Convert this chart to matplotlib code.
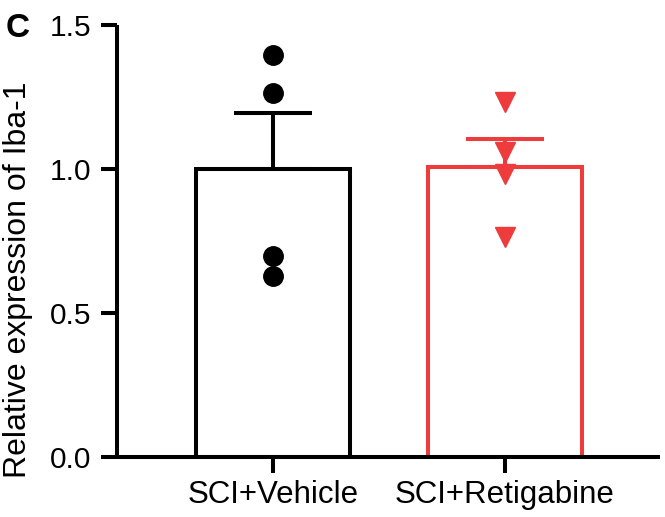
import matplotlib
matplotlib.use("Agg")
import matplotlib.pyplot as plt
import numpy as np

plt.rcParams['font.family'] = ['Liberation Sans', 'DejaVu Sans']

categories = ["SCI+Vehicle", "SCI+Retigabine"]
means = [1.00, 1.005]
sems = [0.193, 0.098]
vehicle_points = [1.396, 1.263, 0.698, 0.628]
retigabine_points = [1.231, 1.060, 0.983, 0.764]
colors = ["#000000", "#EE3B3B"]
yticks = [0.0, 0.5, 1.0, 1.5]

fig = plt.figure(figsize=(6.65, 5.17), dpi=100)
ax = fig.add_axes([0.176, 0.116, 0.9925 - 0.176, 0.952 - 0.116])

x = np.arange(len(categories))
lw = 2.9
for i in range(len(categories)):
    ax.bar(x[i], means[i], width=0.66, facecolor='white', edgecolor=colors[i],
           linewidth=lw, zorder=2)
    ax.errorbar(x[i], means[i], yerr=[[0], [sems[i]]], fmt='none', ecolor=colors[i],
                elinewidth=lw, capsize=28, capthick=lw, zorder=3)

ax.plot([x[0]] * len(vehicle_points), vehicle_points, 'o', color=colors[0],
        markersize=14, zorder=4, linestyle='none')
ax.plot([x[1]] * len(retigabine_points), retigabine_points, 'v', color=colors[1],
        markersize=14, zorder=4, linestyle='none')

ax.set_xlim(-0.672, 1.668)
ax.set_ylim(0, 1.5)
ax.set_yticks(yticks)
ax.set_yticklabels([f"{t:.1f}" for t in yticks])
ax.set_xticks(x)
ax.set_xticklabels(categories)
ax.spines['top'].set_visible(False)
ax.spines['right'].set_visible(False)
for s in ['left', 'bottom']:
    ax.spines[s].set_linewidth(lw)
    ax.spines[s].set_capstyle('butt')
ax.tick_params(axis='both', width=lw, length=11.5)
ax.tick_params(axis='y', labelsize=21.5, pad=7)
ax.tick_params(axis='x', labelsize=22.5, pad=5)
ax.set_ylabel("Relative expression of Iba-1", fontsize=23)
ax.yaxis.set_label_coords(-0.155, 0.41)

fig.text(0.008, 0.975, "C", fontsize=24, fontweight='bold', va='top', ha='left')

fig.savefig("out.png", dpi=100)
